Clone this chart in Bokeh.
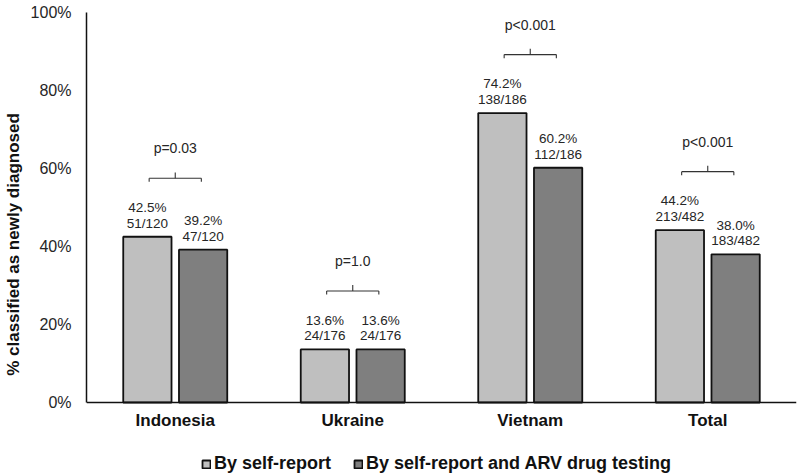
from bokeh.plotting import figure
from bokeh.models import (ColumnDataSource, FactorRange, FixedTicker, PrintfTickFormatter,
                          Legend, LegendItem, CustomJSTransform, Range1d)
from bokeh.transform import dodge, transform
from bokeh.core.properties import value
from bokeh.embed import file_html
from bokeh.resources import INLINE

# ---- data ----
countries = ["Indonesia", "Ukraine", "Vietnam", "Total"]
pct_self = [42.5, 13.6, 74.2, 44.2]
pct_arv = [39.2, 13.6, 60.2, 38.0]
n_self = [51, 24, 138, 213]
n_arv = [47, 24, 112, 183]
denom = [120, 176, 186, 482]
p_labels = ["p=0.03", "p=1.0", "p<0.001", "p<0.001"]
y_ticks = [0, 20, 40, 60, 80, 100]
series_names = ["By self-report", "By self-report and ARV drug testing"]

# ---- style ----
FONT = "Liberation Sans"
LIGHT = "#BFBFBF"
DARK = "#7F7F7F"
TXT = "#262626"
OFF = 0.157
BW = 0.272
BR_GAP = 15.0
HALF = 0.147
Y_BOTTOM = -18.97   # room below the axis for category labels and legend

lab_self = [f"{p:.1f}%\n{n}/{d}" for p, n, d in zip(pct_self, n_self, denom)]
lab_arv = [f"{p:.1f}%\n{n}/{d}" for p, n, d in zip(pct_arv, n_arv, denom)]
top = [max(a, b) for a, b in zip(pct_self, pct_arv)]

src = ColumnDataSource(dict(cat=countries, s=pct_self, a=pct_arv,
                            ls=lab_self, la=lab_arv, top=top, pl=p_labels))

p = figure(x_range=FactorRange(factors=countries, range_padding=0),
           y_range=Range1d(Y_BOTTOM, 100), width=800, height=476,
           output_backend="svg", toolbar_location=None,
           min_border_left=85, min_border_right=4, min_border_top=12,
           min_border_bottom=0)
p.outline_line_color = None
p.grid.visible = False
p.background_fill_color = "white"
p.border_fill_color = "white"

r1 = p.vbar(x=dodge("cat", -OFF, range=p.x_range), top="s", width=BW, source=src,
            fill_color=LIGHT, line_color="#111111", line_width=1.8)
r2 = p.vbar(x=dodge("cat", OFF, range=p.x_range), top="a", width=BW, source=src,
            fill_color=DARK, line_color="#111111", line_width=1.8)

for col, lab, off in (("s", "ls", -OFF), ("a", "la", OFF)):
    p.text(x=dodge("cat", off, range=p.x_range), y=col, text=lab, source=src,
           text_align="center", text_baseline="bottom", y_offset=-6,
           text_font=value(FONT), text_font_size="13.5px", text_color=TXT,
           text_line_height=1.05)

# brackets and p-values
shift = lambda d: CustomJSTransform(v_func=f"return xs.map(x => x + {d})")
br = dict(line_color="#333333", line_width=1.1, source=src)
p.segment(x0=dodge("cat", -HALF, range=p.x_range), x1=dodge("cat", HALF, range=p.x_range),
          y0=transform("top", shift(BR_GAP)), y1=transform("top", shift(BR_GAP)), **br)
for hx in (-HALF, HALF):
    p.segment(x0=dodge("cat", hx, range=p.x_range), x1=dodge("cat", hx, range=p.x_range),
              y0=transform("top", shift(BR_GAP)), y1=transform("top", shift(BR_GAP - 0.9)), **br)
p.segment(x0="cat", x1="cat",
          y0=transform("top", shift(BR_GAP)), y1=transform("top", shift(BR_GAP + 1.5)), **br)
p.text(x="cat", y=transform("top", shift(BR_GAP + 7.7)), text="pl", source=src,
       text_align="center", text_baseline="middle",
       text_font=value(FONT), text_font_size="14px", text_color=TXT)

# axes
for ax in (p.xaxis[0], p.yaxis[0]):
    ax.axis_line_color = "#111111"
    ax.axis_line_width = 1.5
    ax.major_tick_line_color = None
    ax.minor_tick_line_color = None
    ax.major_tick_out = 0
    ax.major_tick_in = 0
    ax.minor_tick_out = 0
    ax.minor_tick_in = 0
    ax.major_label_text_font = FONT

xa = p.xaxis[0]
xa.fixed_location = 0
xa.major_label_text_font_size = "17px"
xa.major_label_text_font_style = "bold"
xa.major_label_text_color = "#111111"
xa.major_label_standoff = 8

ya = p.yaxis[0]
ya.bounds = (0, 100)
ya.ticker = FixedTicker(ticks=y_ticks)
ya.formatter = PrintfTickFormatter(format="%d%%")
ya.major_label_text_font_size = "16px"
ya.major_label_text_color = TXT
ya.major_label_standoff = 15
ya.axis_label = "% classified as newly diagnosed"
ya.axis_label_text_font = FONT
ya.axis_label_text_font_size = "17px"
ya.axis_label_text_font_style = "bold"
ya.axis_label_text_color = "#111111"
ya.axis_label_standoff = 5

legend = Legend(items=[LegendItem(label=series_names[0], renderers=[r1]),
                       LegendItem(label=series_names[1], renderers=[r2])],
                orientation="horizontal", location=(115, 2),
                glyph_width=10, glyph_height=10, label_standoff=3, spacing=22,
                padding=2, margin=0, border_line_color=None,
                background_fill_alpha=0,
                label_text_font=FONT, label_text_font_size="18px",
                label_text_font_style="bold", label_text_color="#111111")
p.add_layout(legend, "center")

open("out.html", "w").write(file_html(p, INLINE))
